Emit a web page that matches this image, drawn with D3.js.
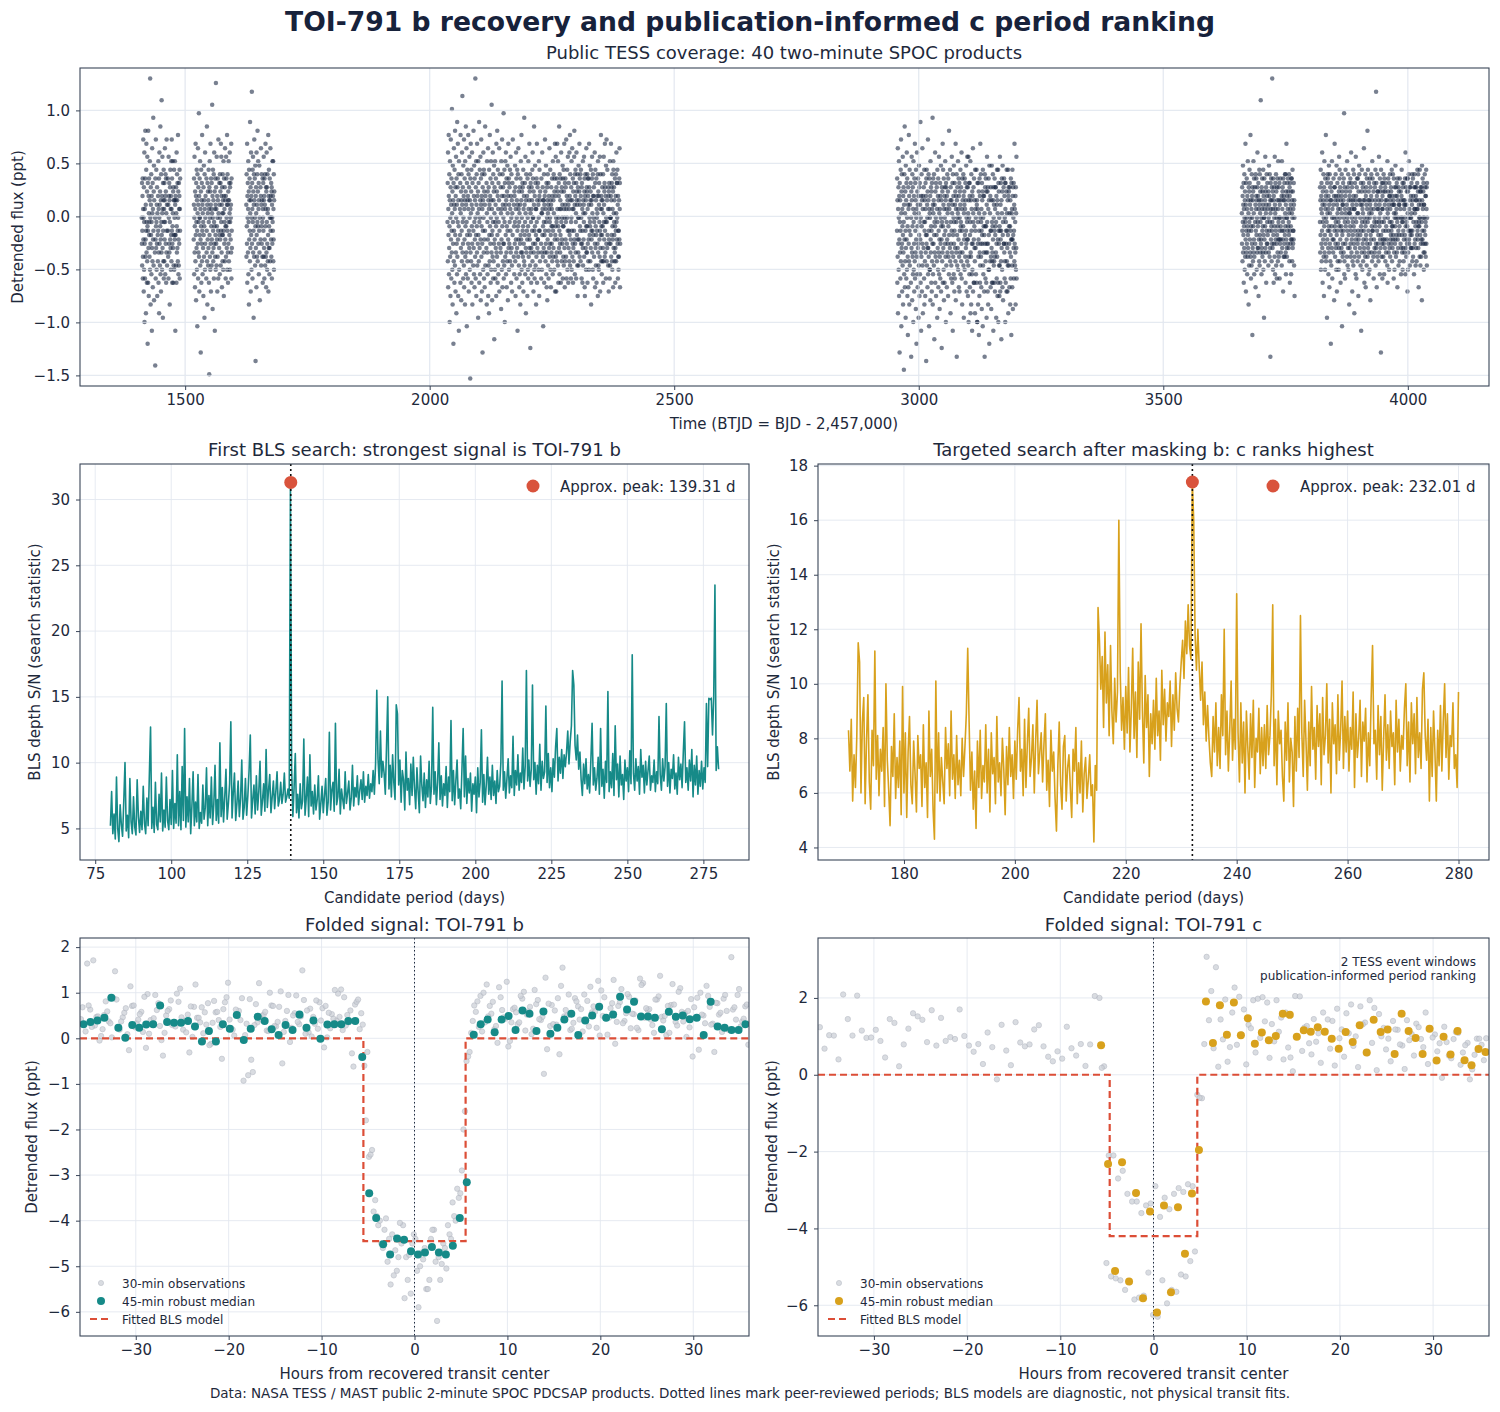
<!DOCTYPE html>
<html>
<head>
<meta charset="utf-8">
<script src="https://cdn.jsdelivr.net/npm/d3@7"></script>
<style>
  body { margin: 0; background: #ffffff; font-family: "DejaVu Sans", sans-serif; }
</style>
</head>
<body>
<script>
// ---- top panel: TESS coverage, sectors per observing block (BTJD) ----
var coverageSectors = [
  [[1411.0,1436.8],[1437.9,1463.2],[1464.4,1490.0]],
  [[1517.4,1542.0],[1543.2,1568.5],[1569.4,1595.7]],
  [[1624.9,1652.9],[1653.9,1682.4]],
  [[2036.3,2060.6],[2061.8,2088.2],[2088.9,2114.4],[2115.9,2143.2],[2144.5,2169.9],[2171.6,2197.8],[2198.5,2226.1],[2227.6,2254.1],[2254.6,2282.6],[2283.1,2309.9],[2310.3,2336.6],[2337.3,2363.7],[2364.5,2389.7]],
  [[2955.4,2982.3],[2983.2,3009.0],[3009.9,3035.5],[3036.2,3062.8],[3063.5,3089.9],[3090.6,3117.1],[3117.9,3144.8],[3145.6,3172.5],[3173.3,3200.2]],
  [[3660.5,3686.6],[3687.4,3713.8],[3714.6,3740.9],[3741.7,3768.6]],
  [[3820.1,3846.4],[3847.3,3873.8],[3874.7,3901.0],[3901.9,3928.4],[3929.3,3956.1],[3957.0,3983.8],[3984.7,4011.5],[4012.4,4039.7]]
];
// detrended flux, two digits per point: flux = fluxCodeMin + fluxCodeStep * code
var fluxCodeMin = -2.185, fluxCodeStep = 0.041;
var coverageFlux = [
  "53476142505862394455 71485336604152682947 55396273444856315064 70455238594367512461 50387346583554624952 44576641855347336056 49634052582746695443 61375548765042596534 57455319624839715146 64524156476035549249 43585066385545623153 68475642595174404857 36635245804958415467 46553061504357643952 " +
  "55436148576952405863 47596238544571505642 62504456396753584761 45573352604864465541 58496643557150623847 51665446593860424957 64415753486649562758 49574260543868514563 57466150437253594048 42615547586439555062",
  "48566240536745513759 55437049583461524664 41575028635447693956 60455277445836536249 53664255482259516438 57476143725056405489 46523560496544575130 63554168475358396245 50744356336148545942 57466452385517604966 44535941704756366251 55426148547945583253 64504357466339526847 51592755446249564184 " +
  "60475542675148583653 44625750397154466149 56406353485961427050 52675845563760495443 63495741546650355862 47555260436957485139 58446751625346567241 50635645385759476652 43576149546841605255 61485356457039625046",
  "56446351477038585361 45556640525933644857 62504375544660365768 49584153824761553964 52674559503056634471 57486253426551205846 60543768495644635273 43595166475561405750 65455334604858694256 51634757915244623855 " +
  "53615044675746583962 48566342517055446037 59456852604147635443 55497236584664515740 46625357436950585348 61445960395653476652 50586643554863415759",
  "52614368375549725840 46635129576644533560 71485639625045785441 59336552475724614369 50563864554273496036 58456753316247564075 44605270483557635127 66415549613872544659 34576350436856814552 60473965535842713755 48625733664451597440 56456952286149644357 39584772556336506046 67534157491662457054 43596438565168473361 55425073465840655237 62485744855339604966 35566351457042585447 59306649614355753852 46645340576748346256 71445158366347552260 50574168534564395948 63375650744258466133 54664552405948693557 42605531644956437251 58476238536641574579 49553461504468523963 57435947652554604841 66523956466251357045 53594473493858644255 40615247576936506346 60455432664855415871 51376356436047537739 47584264522961554466 56496840574562375159 43655054345848704661 62415647605211644355 50674558385363465742 36546149714456514059 58475265436035554868 45623953574664502756 63514469485542595237 54406047563362496645 48577241535945386150 60445164365547584376 42564961524067544631 57634550584835625341 51396655446049577046 59484263235461455238 46556040575064436853 62475336594556744150 39585165476142554933 55446252703857466048 48614556415366503558 64505743594739625445 41546849556044512857 57465263385649584571 50594355476552406137 45536034574863544256 61395058465569445247 53644157493756604551 47556243585140665044 " +
  "57466354415962487036 49585167445336605245 62437055485942665138 53615846745040635547 45574962385568525943 60485356476539625144 51644259557046533761 43566248605244715539 58475364415750673856 46615055436849587242 63455748395260536641 50576944554762385946 55436150677348564063 47586445525439616857 59495642633548605345 42655357485970446251 56506343586447533960 61475538504666425754 48565267445962373558 54635046574151694560 45595163385547625843 62485641706053496552 51435759466433565048 57626745545041635839 49535860445268473761 64465142574962385553 50585447633566455942 58415661524844675036 46635549724358515740 55496043575146633854 43675256485961447050 60455852396553477143 52574664495542605836 59486147553966425353 47535870445760496143 63415155485937666446 54605249574345625138 46585063435468526148 61536447563958445041 50445762486955613747",
  "50623857446931554760 41536635584822615245 57395064437154285946 63473655514267493358 45605218564063487437 54435950306546573961 48684153623551442656 60375547724358335064 42564961385321594667 57453463514460405529 66524158473662544370 39615045573264485324 55446840595137564662 47583054426549603552 61405648753853452758 44635136574769425531 58466052396433505743 52355561454958206247 64494256533759467140 46576344502855624154 53415834664845605138 59503661435547763356 40625447574263492552 56455168385944536135 49604355306452465841 62375750456740544832 44556139584753653651 57482360524359457038 51644656416234554958 38536047665044572961 60425552375848634554 47593562514456407349 55466443573160524739 42575067455438615627 63494458534065475236 50613956465943703455 58455263215749426053 46546641554862375844 61365350594556644051 52604347683955503362 45575163425830544859 56416249554461385746 50654753366052436748 " +
  "48603554426729574461 53405861374952663145 57443363505547402759 41584769365452603848 62385146574331645055 46534064385657292961 55475233614448592654 50356245583842705347 63445237555032614957 47592864425340585145 58364954216347605139 43624551385930564767 52455936604733554162 49574124655443585037 60445032574665385243 45513863485727605342 56433850624436554960 51604552305847395664 44573554483864296150 59474253355142675036 38564861435025574662 54415937654952346047 47624558395343612955 61385250475936644354 50463657424964315860 42595147375460455133 57503962444826615448 55423764485832604953 46613950564370475542 52455833604154466739",
  "54476050435852654556 49613855514663534157 59445270485636615045 53624755405851446649 46575433605042595264 61485645537244573951 50554263475853266046 57435951664554486240 44605247563763505558 62494157534560684652 51584661355548574364 56426349545945528047 48575340604655625044 59514556644158495330 53624855435751674659 45546038565063475852 61475549425953456556 50584463524657215461 55486251574360504785 " +
  "52465955416249573858 47605351446756405461 55485063425947533960 49576245514355664852 60445753486139565047 53624851455758426650 46555960485236625744 58505347614457496354 51634556405948705346 44585361505547625159 57465249635443605838 50615547565148405962 62485457435364465950 47555048615642575335",
  "52604557496441555847 61435450684656385952 48576344533560516645 56494162554758724353 44595257306148546350 62465540585165455637 50634754604357492461 57425951466653395548 45566248535834605070 60514457476352465841 53654936565061544357 47555852415946675162 64435360485538574550 51584663542859495644 56476150574562537740 43605255395847645154 59485644665053426046 52634157495561335458 46545951624744575068 61455548536036564352 49576442585147635531 55445061465753406748 58523956604562495443 47625450355948574465 63465753494256615127 50594564525641554760 54436148575069465338 45575259446351375849 60485642624755537344 52644657504059456154 57415362475634604955 48586345545157436650 62504459395548615246 53456051576442564782 46615237585063445559 59475549435752674553 51564062485459466022 64495744526147553958 " +
  "55486150445963475240 48625356465960435750 61455148575542663854 53596247504556415861 46525863445557484960 59475052645143565846 51634849565739625445 56415360475148655854 44605355496145585237 62485746535042605956 49565143625547595340 57465864495245536141 52604650574361485655 45575349625640685146 60445652485947625136 54624159455350636648 47555060425760495346 58505346615449566343 50465762445852406055 63475554486051425758 46605243575549616450 55485963465137565253 51574464535949426047 59445648605234655750 48625547535961454156 56505345634760495852 44585164475560426153"
];

// ---- first BLS search (periods 80..280 d) ----
var blsPeriodRangeB = [80, 280];
var blsPowerB = [
  5.2,7.8,4.6,6.1,4.2,8.9,5.0,4.0,6.8,5.3,4.4,7.1,10.0,4.8,6.0,4.3,8.8,5.5,4.6,7.4,5.1,4.5,8.7,5.9,4.7,
  6.3,4.9,8.2,5.4,4.6,7.3,5.2,9.0,12.7,5.0,6.6,4.7,8.5,5.3,4.9,7.6,5.5,9.2,4.8,6.4,5.1,8.9,5.6,4.9,7.2,
  5.3,9.4,5.0,6.9,5.4,10.6,5.2,7.8,4.9,9.7,5.6,12.6,5.1,7.4,5.5,8.8,4.6,6.7,9.3,5.2,7.0,5.5,9.1,5.0,6.2,
  5.4,8.3,5.7,6.6,9.6,5.2,7.5,5.8,8.9,5.3,6.8,9.8,5.6,7.2,5.4,11.5,5.9,8.1,5.5,7.4,9.5,5.7,6.9,8.4,13.1,
  5.8,7.7,9.2,5.6,6.9,8.6,5.9,7.3,10.2,5.7,6.6,8.8,6.0,7.5,9.4,12.1,5.8,7.2,8.3,6.1,9.0,6.4,7.8,10.1,6.0,
  7.1,8.4,6.3,11.0,6.6,7.9,9.1,6.2,7.4,8.6,6.5,7.8,9.3,6.7,7.2,8.5,6.9,7.6,9.2,7.0,7.4,8.0,7.3,31.3,9.6,
  5.9,8.1,10.7,6.2,7.6,5.8,8.4,6.5,7.1,11.8,6.0,7.3,8.9,5.9,10.6,6.7,7.8,6.1,8.3,6.4,7.2,9.0,5.7,6.9,8.2,
  6.2,7.5,8.8,6.0,7.0,12.3,6.4,7.9,8.5,6.3,13.0,6.8,7.4,9.5,6.1,8.0,7.2,6.5,9.3,6.9,7.7,8.6,6.4,7.3,9.8,
  6.7,8.1,7.4,9.0,6.8,7.9,8.7,7.2,9.3,7.0,8.2,7.5,9.1,7.3,8.4,7.8,9.4,7.6,9.9,15.5,10.3,8.4,12.4,8.9,10.1,
  9.2,7.6,11.2,15.0,8.0,9.8,7.4,10.6,8.5,7.2,14.4,13.7,8.3,10.2,7.0,9.4,8.7,6.4,10.8,7.9,8.8,6.8,9.9,7.5,10.4,
  8.1,6.5,9.6,7.8,6.2,10.5,8.3,7.1,9.2,6.6,8.7,7.4,10.1,6.9,8.2,14.2,7.6,9.3,6.8,8.5,11.5,7.2,9.0,6.7,8.4,
  7.5,9.7,6.6,8.9,7.8,13.2,7.1,9.4,6.8,8.6,10.2,7.3,8.0,6.5,9.5,12.6,7.4,10.5,6.9,8.8,7.7,9.2,6.3,8.4,7.6,
  8.9,6.2,9.6,7.4,8.5,12.5,7.0,9.1,6.8,8.3,10.4,7.6,8.9,7.2,9.8,7.5,8.6,6.9,9.4,7.8,8.2,10.0,16.2,7.9,9.3,
  7.3,8.8,10.3,7.7,9.0,8.1,12.0,7.5,9.4,8.3,10.6,7.9,9.2,8.5,11.1,8.0,9.7,17.0,8.6,10.2,8.2,9.5,15.9,8.7,10.0,
  7.6,9.8,8.4,11.4,7.9,10.1,8.8,9.3,14.3,8.5,10.7,8.1,9.6,7.8,10.3,8.9,11.2,12.6,8.6,10.4,9.2,11.0,8.8,10.6,9.7,
  10.8,12.4,9.9,11.6,12.8,17.0,15.9,11.3,10.2,12.1,9.5,10.8,8.7,7.5,9.9,8.4,10.3,8.0,9.1,7.7,10.2,13.0,8.3,9.6,7.9,
  8.8,10.4,7.6,12.6,8.2,9.5,7.3,10.1,8.5,15.4,7.8,9.3,8.1,10.7,7.5,12.8,8.7,9.9,7.4,10.5,8.3,9.1,7.2,10.2,8.6,
  9.6,7.8,10.9,8.4,18.2,9.2,7.9,10.3,8.6,9.7,7.6,11.0,8.9,9.8,7.7,10.1,8.3,9.4,10.5,7.9,9.0,8.5,10.2,7.8,9.3,
  8.4,13.5,9.1,7.9,10.3,8.6,9.7,14.5,8.2,10.0,7.7,9.5,8.8,10.6,8.0,9.2,7.6,10.4,8.7,9.9,8.1,10.8,13.1,8.5,9.6,
  7.9,10.2,8.6,11.0,7.4,9.8,8.3,10.5,7.6,9.4,8.2,10.1,8.0,9.6,8.5,14.5,9.7,14.9,14.8,14.9,12.1,15.0,23.5,9.4,11.2,9.5
];
var peakPeriodB = 139.31, peakPowerB = 31.3;

// ---- targeted search after masking b (periods 170..280 d) ----
var blsPeriodRangeC = [170, 280];
var blsPowerC = [
  8.3,6.8,8.7,5.7,7.4,6.2,8.1,11.5,10.8,6.0,8.6,9.5,5.6,7.9,9.6,6.4,5.4,8.3,7.0,11.2,
  6.5,8.1,5.9,7.6,6.8,8.4,5.5,10.0,7.2,6.1,4.8,7.7,6.6,8.9,5.8,7.3,6.2,7.9,5.2,9.9,
  6.0,8.2,5.1,7.5,8.8,6.3,5.6,7.9,6.7,5.3,8.1,6.9,7.4,5.5,8.5,6.2,7.1,5.1,9.0,6.6,
  7.6,5.4,4.3,10.1,6.0,8.2,5.7,7.3,6.4,5.6,8.4,6.9,7.8,5.9,9.0,6.5,7.4,5.8,8.1,6.3,
  7.2,5.9,8.0,6.6,7.7,8.9,11.3,8.6,6.1,7.5,5.4,6.8,4.7,7.9,6.2,8.3,5.8,7.0,6.4,8.5,
  6.0,7.6,5.3,8.2,6.7,7.3,5.6,8.8,6.4,7.1,5.9,8.0,6.9,5.2,7.7,6.3,8.4,6.6,7.4,5.8,
  7.9,6.5,8.3,9.5,6.8,7.6,5.9,8.7,6.2,7.8,9.1,6.6,7.3,8.5,6.0,7.9,9.4,6.7,7.5,8.2,
  6.4,7.8,8.9,6.1,7.2,5.5,8.3,6.8,7.5,5.8,4.6,7.0,8.6,6.3,5.4,7.7,8.1,5.7,6.9,7.4,
  6.2,5.1,7.6,6.8,8.4,5.6,7.1,6.0,7.9,5.3,6.7,7.3,5.8,6.5,7.4,5.9,6.3,4.2,7.0,6.1,
  12.8,11.6,9.8,11.0,8.4,11.9,9.3,10.7,8.1,11.4,9.0,7.8,10.2,8.6,9.7,16.0,10.4,8.3,9.5,7.6,
  9.9,8.2,10.6,7.5,9.1,11.3,8.0,9.7,7.3,10.8,8.7,12.2,9.0,7.1,10.3,8.4,9.6,6.6,8.9,7.8,
  9.4,7.6,10.2,8.1,9.0,7.2,10.5,8.5,9.8,7.9,9.3,8.8,10.1,7.7,9.6,8.3,10.4,9.1,8.6,9.9,
  10.8,11.6,10.2,12.3,11.1,12.9,11.4,10.9,17.4,16.0,11.8,10.5,12.0,10.6,9.4,10.8,8.5,9.7,7.9,9.2,
  8.0,7.1,6.6,8.8,7.5,9.3,7.0,8.4,6.9,9.6,8.1,12.0,7.4,9.0,6.8,8.3,10.1,7.2,8.7,7.6,
  13.3,8.2,6.4,9.3,7.1,8.6,6.0,9.0,7.7,6.5,8.9,7.3,9.4,6.2,8.0,7.5,9.1,6.7,8.4,7.0,
  8.5,6.9,9.2,7.4,8.1,9.6,12.9,7.0,8.7,6.3,9.0,7.8,8.3,6.6,5.7,8.6,7.2,9.3,6.4,8.0,
  7.5,5.5,8.8,6.8,9.1,7.3,12.5,8.2,6.6,9.4,7.9,6.1,8.6,7.0,9.9,7.6,8.4,6.5,9.2,7.7,
  8.9,6.3,9.5,7.4,8.1,10.0,7.1,8.7,6.0,9.3,7.8,8.5,6.7,9.6,7.2,8.3,10.1,6.9,8.8,7.5,
  9.0,6.8,8.4,7.6,9.7,6.2,8.9,7.3,8.0,9.4,6.6,8.6,7.9,9.1,6.4,8.2,7.0,9.5,11.4,7.8,
  8.3,6.5,9.2,7.4,8.8,6.1,8.0,9.6,7.2,8.5,6.9,9.0,7.7,8.2,6.3,9.4,7.5,8.7,6.8,8.1,
  7.6,9.1,10.0,7.0,8.6,6.4,9.3,7.8,8.9,6.7,9.5,7.3,8.2,6.9,9.8,10.4,8.1,7.2,8.7,5.7,
  8.4,6.6,9.0,7.5,5.7,8.3,7.0,9.2,6.8,8.6,10.0,7.3,8.9,6.5,8.1,7.7,9.3,6.9,7.4,6.2,
  9.7
];
var peakPeriodC = 232.01, peakPowerC = 17.4;

// ---- folded light curves ----
var obsCadenceHours = 0.5, medianBinHours = 0.75;

// TOI-791 b: three transits, 30-min observations
var foldBObsStart = [-35.9, -35.73, -35.57];
var foldBObs = [
  [0.42,0.15,0.63,0.28,-0.05,0.51,0.37,0.88,0.22,0.46, 0.09,0.71,0.33,0.58,-0.21,0.40,0.95,0.27,0.12,0.64,
   0.36,0.80,0.19,0.52,0.03,0.45,0.68,0.30,-0.12,0.57, 0.25,0.79,0.41,0.06,0.60,-0.93,-0.81,-0.74,0.35,0.49,
   0.17,0.72,0.26,1.03,0.38,-0.08,0.55,0.31,0.84,0.13, 0.47,0.21,0.66,0.02,0.53,0.39,1.07,0.28,0.61,0.74,
   0.20,-0.60,-2.60,-3.80,-4.10,-4.60,-4.90,-4.30,-5.10,-4.50,-4.80,-5.60,-4.40,-5.00,-4.60,-5.30,-4.20,-4.80,-4.50,-4.10,-3.60,-3.30,-2.90,-0.50,
   0.12,0.58,0.93,0.35,0.71,0.20,1.12,0.46,-0.18,0.64, 0.31,0.87,0.52,0.09,0.75,0.40,1.33,0.27,0.61,-0.35,
   0.48,0.96,0.34,0.70,0.15,0.82,0.57,0.23,1.05,0.44, 0.66,-0.12,0.79,0.38,0.91,0.53,0.18,1.21,0.62,0.29,
   0.85,0.47,0.07,0.73,0.36,1.10,0.55,0.24,0.68,-0.25, 0.50,0.93,0.32,0.77,0.14,0.60,1.78,0.41,0.26,0.70],
  [0.68,1.64,0.25,0.47,0.05,0.81,0.33,1.47,0.19,0.56, -0.26,0.72,0.41,0.14,0.97,0.30,0.62,-0.04,0.50,0.83,
   0.26,1.09,0.38,-0.31,0.69,0.45,0.11,0.77,0.34,0.58, -0.45,0.90,0.22,0.63,0.40,0.07,0.86,0.29,1.21,0.52,
   0.16,0.71,0.36,-0.55,0.60,0.23,0.94,0.48,0.10,0.65, 0.32,0.79,-0.20,0.56,0.43,0.98,0.18,0.51,-0.33,0.80,
   0.55,-1.80,-2.55,-3.55,-4.00,-4.20,-4.40,-5.20,-4.80,-4.10,-5.30,-4.50,-5.10,-4.70,-5.50,-4.40,-4.90,-5.30,-4.60,-4.30,-3.90,-3.50,-2.00,-0.40,
   0.38,0.81,0.15,1.18,0.54,0.27,0.90,0.43,-0.06,0.67, 0.35,1.02,0.59,0.21,0.84,0.47,-0.24,0.73,0.30,1.15,
   0.62,0.18,0.88,0.41,0.96,0.26,0.70,1.26,0.49,0.08, 0.77,0.36,1.08,0.55,0.22,0.83,1.31,0.45,0.64,0.12,
   0.92,0.39,0.71,1.19,0.28,0.58,0.03,0.86,0.44,1.00, 0.33,0.69,-0.30,0.52,0.87,0.19,0.63,0.95,0.37,0.74],
  [0.31,0.72,1.71,0.48,0.20,0.59,0.02,0.85,0.37,0.66, 1.14,0.24,0.53,0.91,0.10,0.44,0.77,-0.38,0.60,0.29,
   0.98,0.46,0.13,0.70,1.18,0.35,0.57,-0.15,0.82,0.40, 0.64,1.22,0.19,0.51,0.88,0.32,-0.47,0.75,0.42,0.58,
   1.00,0.27,0.69,0.14,0.95,0.50,0.36,1.49,0.61,0.04, 0.83,0.39,0.71,0.22,1.06,0.47,0.90,0.35,-0.62,0.85,
   0.30,-0.30,-2.45,-3.90,-4.50,-3.95,-5.40,-4.65,-4.05,-5.70,-4.75,-4.30,-5.90,-4.85,-5.50,-4.20,-6.20,-4.95,-5.05,-4.40,-4.00,-3.40,-1.60,-0.30,
   0.72,0.25,1.00,0.48,0.80,-0.10,0.62,1.24,0.35,0.57, 0.93,0.17,0.69,1.06,0.42,-0.78,0.76,0.31,0.88,1.55,
   0.50,0.21,0.81,0.64,0.39,1.13,0.58,0.06,0.90,0.45, 1.28,0.71,0.33,0.97,0.54,0.23,1.17,0.66,0.41,0.85,
   1.37,0.49,0.12,0.74,1.02,0.37,0.60,-0.40,0.89,0.52, 1.15,0.30,0.78,0.56,0.95,0.18,0.68,1.08,0.43,-0.14]
];
var foldBMedianStart = -35.625;
var foldBMedian = [
  0.31,0.36,0.39,0.45,0.89,0.23,0.01,0.29,0.23,0.30,0.31,0.72,0.36,0.34,0.34,0.38,0.26,-0.07,0.16,-0.07,
  0.31,0.21,0.51,-0.04,0.21,0.47,0.38,0.20,0.07,0.29,0.18,0.52,0.23,0.39,-0.01,0.30,0.31,0.31,0.38,0.38,
  -0.41,-3.40,-3.94,-4.52,-4.74,-4.39,-4.42,-4.67,-4.74,-4.70,-4.58,-4.70,-4.74,-4.55,-3.94,-3.16,
  0.08,0.31,0.41,0.13,0.41,0.49,0.18,0.61,0.54,0.16,0.59,0.10,0.23,0.41,0.54,0.07,0.39,0.50,0.69,0.45,
  0.52,0.91,0.63,0.80,0.48,0.48,0.45,0.20,0.58,0.47,0.50,0.42,0.45,0.07,0.80,0.26,0.23,0.18,0.18,0.31
];
var modelBHours = [-36, -5.5, 5.5, 36];
var modelBFlux = [0, -4.45, 0, 0];

// TOI-791 c: two event windows
var foldCObsStart = [-35.8, -5.55];
var foldCObs = [
  [1.24,0.68,1.03,1.02,0.40,2.09,1.45,1.02,2.06,1.15, 0.96,0.97,1.17,0.88,0.45,1.45,1.35,0.22,0.79,1.20,
   1.60,1.52,1.43,0.85,1.68,0.76,1.48,0.88,0.98,0.93, 1.70,1.01,0.76,0.60,0.80,0.28,1.10,0.72,-0.12,1.30,
   0.63,0.25,1.37,0.84,0.74,0.79,1.18,1.29,0.74,0.47, 0.35,0.61,0.42,1.25,0.69,0.50,0.80,0.23,0.79,2.05,
   2.00,0.22,-2.10,-2.10,-2.70,-2.50,-3.10,-3.30,-3.30,-3.60,-3.40,-3.35,-2.90,-3.70,-3.20,-3.50,-3.10,-2.95,-3.05,-2.85,-2.90,-0.52,-0.61,
   3.07,2.18,2.80,1.44,1.96,0.72,2.27,2.03,1.70,1.30, 1.94,1.98,2.02,1.88,1.32,1.94,1.49,1.62,0.45,2.05,
   2.04,1.23,0.82,1.45,1.08,1.62,1.44,1.40,1.72,1.18, 1.60,1.83,1.00,1.78,1.36,1.94,1.74,1.58,1.22,0.94,
   1.40,1.17,0.76,1.42,1.06,1.33,0.93,1.62,1.21,1.05, 0.82,1.25,0.50,0.93,1.09,0.58,0.83,0.14,0.94,0.78,0.95],
  [0.18,-4.90,-5.25,-5.30,-5.35,-5.60,-5.40,-5.85,-5.80,-5.75,-5.15,-6.25,-6.30,-5.35,-5.95,-5.60,-5.65,-5.20,-5.25,-4.85,-4.60,-0.60,
   0.80,1.42,0.69,0.21,0.92,0.34,1.62,0.78,1.05,0.27, 1.21,0.58,0.96,1.39,0.44,0.87,1.12,0.40,0.71,0.09,
   0.99,0.62,1.27,0.53,0.86,0.31,1.14,0.68,0.24,0.95, 0.47,1.08,0.75,0.20,1.31,0.56,0.83,0.12,1.00,0.66,
   0.35,1.18,0.79,0.15,0.90,0.50,1.24,0.72,0.28,0.97, 0.61,-0.08,0.85,0.43,1.11,0.26,0.77,-0.12,0.52,0.94,0.38]
];
var foldCMedianStart = -5.625;
var foldCMedian = [
  0.77,-2.32,-5.11,-2.28,-5.38,-3.08,-5.82,-3.56,-6.19,-3.40,-5.66,-3.45,-4.66,-3.09,-1.96,
  1.91,0.83,1.81,1.04,1.88,1.03,1.47,0.81,1.10,0.90,1.01,1.59,1.56,0.99,1.16,1.12,1.24,1.12,0.94,0.68,
  1.11,0.85,1.29,0.58,1.43,1.11,1.18,0.54,1.59,1.14,0.96,0.54,1.20,0.37,0.99,0.53,1.14,0.38,0.25,0.67,0.59
];
var modelCHours = [-36, -4.7, 4.7, 36];
var modelCFlux = [0, -4.2, 0, 0];

// ---- colours ----
var ink = "#1e293b", spine = "#3a4558", gridColor = "#e3e8ef";
var navy = "#172540", teal = "#168a88", gold = "#d8a11c", red = "#d9533c", modelRed = "#dc4e37";
var obsFill = "#cdd1d8", obsEdge = "#a4aab5";

var svg = d3.select("body").append("svg")
    .attr("width", 1500).attr("height", 1412)
    .style("font-family", "'DejaVu Sans', sans-serif");
var defs = svg.append("defs");

function addText(x, y, s, size, anchor, weight, color) {
  return svg.append("text")
    .attr("x", x).attr("y", y)
    .attr("text-anchor", anchor || "middle")
    .attr("font-size", size)
    .attr("font-weight", weight || "normal")
    .attr("fill", color || ink)
    .text(s);
}

function yLabel(x, cy, s) {
  svg.append("text")
    .attr("transform", "translate(" + x + "," + cy + ") rotate(-90)")
    .attr("text-anchor", "middle").attr("dy", "0.35em")
    .attr("font-size", 15).attr("fill", ink)
    .text(s);
}

function drawGrid(parent, box, x, y, xTicks, yTicks, opacity) {
  var grid = parent.append("g").attr("stroke", gridColor).attr("stroke-width", 0.9)
      .attr("stroke-opacity", opacity);
  grid.selectAll("line.gx").data(xTicks).join("line").attr("class", "gx")
      .attr("x1", function(d) { return x(d); }).attr("x2", function(d) { return x(d); })
      .attr("y1", box.t).attr("y2", box.b);
  grid.selectAll("line.gy").data(yTicks).join("line").attr("class", "gy")
      .attr("y1", function(d) { return y(d); }).attr("y2", function(d) { return y(d); })
      .attr("x1", box.l).attr("x2", box.r);
}

function makePanel(id, box, xDom, yDom, xTicks, yTicks, xFmt, yFmt, gridOnTop) {
  var x = d3.scaleLinear().domain(xDom).range([box.l, box.r]);
  var y = d3.scaleLinear().domain(yDom).range([box.b, box.t]);
  var root = svg.append("g");

  drawGrid(root, box, x, y, xTicks, yTicks, 1);

  defs.append("clipPath").attr("id", id).append("rect")
      .attr("x", box.l).attr("y", box.t)
      .attr("width", box.r - box.l).attr("height", box.b - box.t);
  var plot = root.append("g").attr("clip-path", "url(#" + id + ")");
  if (gridOnTop) drawGrid(root, box, x, y, xTicks, yTicks, 0.8);

  var ax = root.append("g")
      .attr("transform", "translate(0," + box.b + ")")
      .call(d3.axisBottom(x).tickValues(xTicks).tickFormat(xFmt).tickSize(4).tickPadding(4));
  var ay = root.append("g")
      .attr("transform", "translate(" + box.l + ",0)")
      .call(d3.axisLeft(y).tickValues(yTicks).tickFormat(yFmt).tickSize(4).tickPadding(6));
  [ax, ay].forEach(function(a) {
    a.select(".domain").remove();
    a.selectAll("line").attr("stroke", spine);
    a.selectAll("text").attr("font-size", 15).attr("fill", ink)
      .style("font-family", "'DejaVu Sans', sans-serif");
  });

  root.append("rect")
      .attr("x", box.l).attr("y", box.t)
      .attr("width", box.r - box.l).attr("height", box.b - box.t)
      .attr("fill", "none").attr("stroke", spine).attr("stroke-width", 1.1);

  return { x: x, y: y, root: root, plot: plot, box: box };
}

// ---------- title ----------
addText(750, 31, "TOI-791 b recovery and publication-informed c period ranking", 26.6, "middle", "bold", "#17223b");

// ---------- top panel ----------
var topBox = { l: 80, r: 1489, t: 68, b: 386 };
var topP = makePanel("clipTop", topBox, [1285, 4166], [-1.6, 1.4],
  [1500, 2000, 2500, 3000, 3500, 4000], [-1.5, -1.0, -0.5, 0.0, 0.5, 1.0],
  d3.format("d"), d3.format(".1f"), true);

var coveragePoints = [];
coverageSectors.forEach(function(sectors, bi) {
  var codes = coverageFlux[bi].replace(/\s+/g, "");
  var flux = [];
  for (var k = 0; k + 1 < codes.length; k += 2) flux.push(fluxCodeMin + fluxCodeStep * (+codes.substr(k, 2)));
  var total = d3.sum(sectors, function(s) { return s[1] - s[0]; });
  flux.forEach(function(f, i) {
    var u = (i + 0.5) / flux.length * total, j = 0;
    while (j < sectors.length - 1 && u > sectors[j][1] - sectors[j][0]) { u -= sectors[j][1] - sectors[j][0]; j++; }
    coveragePoints.push({ t: sectors[j][0] + u, f: f });
  });
});
topP.plot.selectAll("circle").data(coveragePoints).join("circle")
    .attr("cx", function(d) { return topP.x(d.t); })
    .attr("cy", function(d) { return topP.y(d.f); })
    .attr("r", 2.25)
    .attr("fill", navy).attr("fill-opacity", 0.58);

addText(784, 59, "Public TESS coverage: 40 two-minute SPOC products", 18);
addText(784, 429, "Time (BTJD = BJD - 2,457,000)", 15);
yLabel(18, 227, "Detrended flux (ppt)");

// ---------- BLS panels ----------
function blsPanel(id, box, xDom, yDom, xTicks, yTicks, range, power, color, peakP, peakS, title) {
  var p = makePanel(id, box, xDom, yDom, xTicks, yTicks, d3.format("d"), d3.format("d"), false);
  var step = (range[1] - range[0]) / (power.length - 1);
  var line = d3.line()
      .x(function(d, i) { return p.x(range[0] + step * i); })
      .y(function(d) { return p.y(d); });
  p.plot.append("path").datum(power)
      .attr("d", line).attr("fill", "none")
      .attr("stroke", color).attr("stroke-width", 1.6).attr("stroke-linejoin", "round");
  p.plot.append("line")
      .attr("x1", p.x(peakP)).attr("x2", p.x(peakP))
      .attr("y1", box.t).attr("y2", box.b)
      .attr("stroke", "#111111").attr("stroke-width", 1.6).attr("stroke-dasharray", "2,3");
  p.root.append("circle")
      .attr("cx", p.x(peakP)).attr("cy", p.y(peakS)).attr("r", 6.5).attr("fill", red);
  // legend
  p.root.append("circle").attr("cx", box.r - 216).attr("cy", box.t + 22).attr("r", 6.5).attr("fill", red);
  p.root.append("text").attr("x", box.r - 189).attr("y", box.t + 27.5)
      .attr("font-size", 15).attr("fill", ink)
      .text("Approx. peak: " + peakP.toFixed(2) + " d");
  addText((box.l + box.r) / 2, box.t - 8.5, title, 18);
  addText((box.l + box.r) / 2, box.b + 43, "Candidate period (days)", 15);
  return p;
}

blsPanel("clipBlsB", { l: 80, r: 749, t: 464, b: 860 }, [70, 290], [2.6, 32.7],
  [75, 100, 125, 150, 175, 200, 225, 250, 275], [5, 10, 15, 20, 25, 30],
  blsPeriodRangeB, blsPowerB, teal, peakPeriodB, peakPowerB,
  "First BLS search: strongest signal is TOI-791 b");
yLabel(35, 662, "BLS depth S/N (search statistic)");

blsPanel("clipBlsC", { l: 818, r: 1489, t: 464, b: 860 }, [164.5, 285.5], [3.54, 18.06],
  [180, 200, 220, 240, 260, 280], [4, 6, 8, 10, 12, 14, 16, 18],
  blsPeriodRangeC, blsPowerC, gold, peakPeriodC, peakPowerC,
  "Targeted search after masking b: c ranks highest");
yLabel(774, 662, "BLS depth S/N (search statistic)");

// ---------- folded panels ----------
function foldPanel(id, box, yDom, yTicks, obsStart, obs, medStart, med, medColor, mHours, mFlux, title) {
  var p = makePanel(id, box, [-36, 36], yDom, [-30, -20, -10, 0, 10, 20, 30], yTicks,
    d3.format("d"), d3.format("d"), false);
  var pts = [];
  obs.forEach(function(series, k) {
    series.forEach(function(v, i) { pts.push({ h: obsStart[k] + obsCadenceHours * i, f: v }); });
  });
  p.plot.append("g").selectAll("circle").data(pts).join("circle")
      .attr("cx", function(d) { return p.x(d.h); })
      .attr("cy", function(d) { return p.y(d.f); })
      .attr("r", 2.7)
      .attr("fill", obsFill).attr("stroke", obsEdge).attr("stroke-width", 0.6)
      .attr("opacity", 0.75);
  p.plot.append("line")
      .attr("x1", p.x(0)).attr("x2", p.x(0)).attr("y1", box.t).attr("y2", box.b)
      .attr("stroke", ink).attr("stroke-width", 1).attr("stroke-dasharray", "1.5,2.5");
  var model = mHours.map(function(h, i) { return [h, mFlux[i]]; });
  p.plot.append("path").datum(model)
      .attr("d", d3.line().curve(d3.curveStepAfter)
        .x(function(d) { return p.x(d[0]); }).y(function(d) { return p.y(d[1]); }))
      .attr("fill", "none").attr("stroke", modelRed).attr("stroke-width", 2.2)
      .attr("stroke-dasharray", "7,4");
  p.plot.append("g").selectAll("circle").data(med).join("circle")
      .attr("cx", function(d, i) { return p.x(medStart + medianBinHours * i); })
      .attr("cy", function(d) { return p.y(d); })
      .attr("r", 4).attr("fill", medColor);

  // legend
  var lx = box.l + 21, tx = box.l + 42;
  p.root.append("circle").attr("cx", lx).attr("cy", box.t + 345).attr("r", 2.6)
      .attr("fill", obsFill).attr("stroke", obsEdge).attr("stroke-width", 0.6).attr("opacity", 0.75);
  p.root.append("circle").attr("cx", lx).attr("cy", box.t + 363).attr("r", 4).attr("fill", medColor);
  p.root.append("line").attr("x1", lx - 11).attr("x2", lx + 11)
      .attr("y1", box.t + 381).attr("y2", box.t + 381)
      .attr("stroke", modelRed).attr("stroke-width", 2.2).attr("stroke-dasharray", "7,4");
  ["30-min observations", "45-min robust median", "Fitted BLS model"].forEach(function(s, i) {
    p.root.append("text").attr("x", tx).attr("y", box.t + 349.5 + 18 * i)
        .attr("font-size", 12).attr("fill", ink).text(s);
  });

  addText((box.l + box.r) / 2, box.t - 7.5, title, 18);
  addText((box.l + box.r) / 2, box.b + 43, "Hours from recovered transit center", 15);
  return p;
}

foldPanel("clipFoldB", { l: 80, r: 749, t: 938, b: 1336 }, [-6.53, 2.2], [-6, -5, -4, -3, -2, -1, 0, 1, 2],
  foldBObsStart, foldBObs, foldBMedianStart, foldBMedian, teal, modelBHours, modelBFlux,
  "Folded signal: TOI-791 b");
yLabel(32, 1137, "Detrended flux (ppt)");

foldPanel("clipFoldC", { l: 818, r: 1489, t: 938, b: 1336 }, [-6.8, 3.56], [-6, -4, -2, 0, 2],
  foldCObsStart, foldCObs, foldCMedianStart, foldCMedian, gold, modelCHours, modelCFlux,
  "Folded signal: TOI-791 c");
yLabel(772, 1137, "Detrended flux (ppt)");

addText(1476, 966, "2 TESS event windows", 12, "end");
addText(1476, 980, "publication-informed period ranking", 12, "end");

// ---------- footer ----------
addText(750, 1398, "Data: NASA TESS / MAST public 2-minute SPOC PDCSAP products. Dotted lines mark peer-reviewed periods; BLS models are diagnostic, not physical transit fits.", 13.5);
</script>
</body>
</html>
